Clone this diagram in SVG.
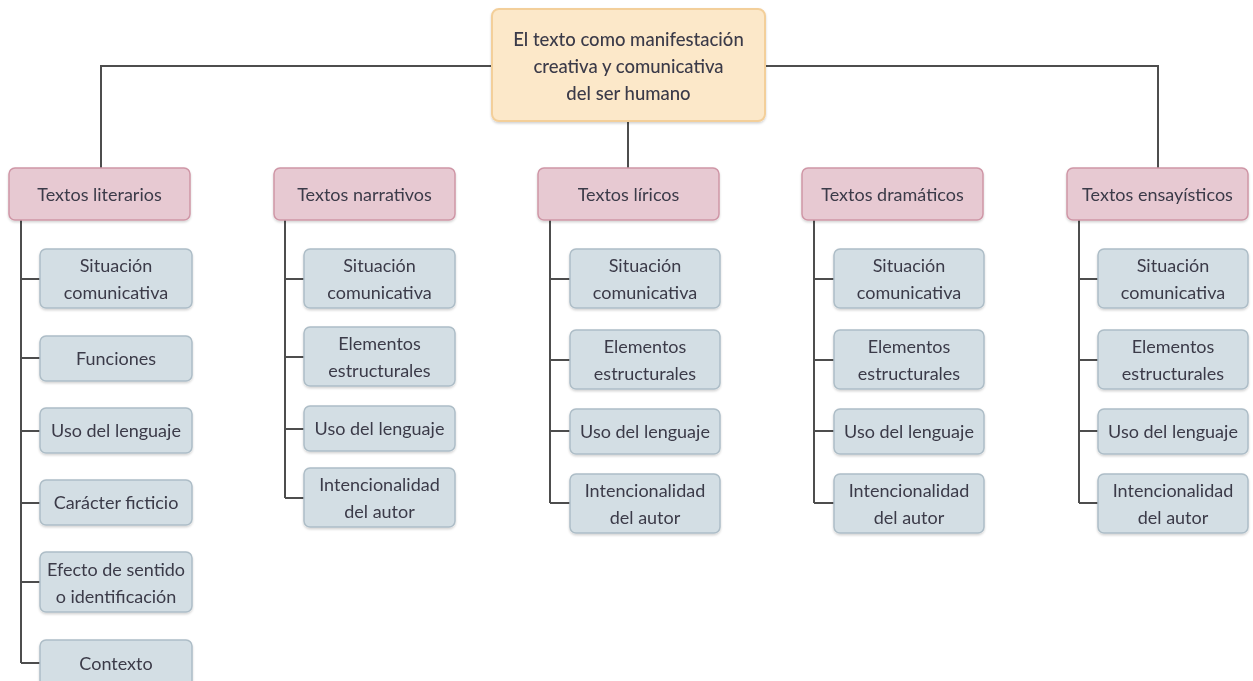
<svg xmlns="http://www.w3.org/2000/svg" width="1253" height="681" viewBox="0 0 1253 681">
<style>
text{font-family:Lato,"Open Sans","Liberation Sans",sans-serif;font-size:18px;fill:#3b3a48;text-anchor:middle}
.root{fill:#fce8c9;stroke:#f3cf9a;stroke-width:2}
.cat{fill:#e7c9d2;stroke:#cf96a6;stroke-width:1.5}
.sub{fill:#d3dee4;stroke:#adbdc7;stroke-width:1.5}
.rt{font-size:18.5px;font-weight:500}
.sh{fill:#000;opacity:0.08}
#connectors path{fill:none;stroke:#4d4d4d;stroke-width:2}
</style>
<defs>
<filter id="ds" x="-5%" y="-10%" width="110%" height="130%"><feDropShadow dx="0" dy="1.5" stdDeviation="1" flood-color="#000" flood-opacity="0.18"/></filter>
</defs>
<rect width="1253" height="681" fill="#fff"/>
<g id="connectors">
<path d="M101 168V66H1158V168M628 121V168"/>
<path d="M21 220V663M21 279H40M21 358H40M21 431H40M21 503H40M21 582H40M21 663H40"/>
<path d="M285 220V498M285 279H304M285 357H304M285 429H304M285 498H304"/>
<path d="M550 220V503M550 279H570M550 360H570M550 431H570M550 503H570"/>
<path d="M814 220V503M814 279H834M814 360H834M814 431H834M814 503H834"/>
<path d="M1079 220V503M1079 279H1098M1079 360H1098M1079 431H1098M1079 503H1098"/>
</g>
<g id="root" filter="url(#ds)"><rect class="root" x="492" y="9" width="273" height="112" rx="7"/>
<text class="rt" x="628.5" y="46">El texto como manifestación</text>
<text class="rt" x="628.5" y="73">creativa y comunicativa</text>
<text class="rt" x="628.5" y="100">del ser humano</text></g>

<g id="cat1" filter="url(#ds)"><rect class="cat" x="9" y="168" width="181" height="52" rx="6"/><text x="99.5" y="201">Textos literarios</text></g>
<g id="cat2" filter="url(#ds)"><rect class="cat" x="274" y="168" width="181" height="52" rx="6"/><text x="364.5" y="201">Textos narrativos</text></g>
<g id="cat3" filter="url(#ds)"><rect class="cat" x="538" y="168" width="181" height="52" rx="6"/><text x="628.5" y="201">Textos líricos</text></g>
<g id="cat4" filter="url(#ds)"><rect class="cat" x="802" y="168" width="181" height="52" rx="6"/><text x="892.5" y="201">Textos dramáticos</text></g>
<g id="cat5" filter="url(#ds)"><rect class="cat" x="1067" y="168" width="181" height="52" rx="6"/><text x="1157.5" y="201">Textos ensayísticos</text></g>

<g id="c1s1" filter="url(#ds)"><rect class="sub" x="40" y="249" width="152" height="59" rx="6"/><text x="116" y="272">Situación</text><text x="116" y="299">comunicativa</text></g>
<g id="c1s2" filter="url(#ds)"><rect class="sub" x="40" y="336" width="152" height="45" rx="6"/><text x="116" y="365">Funciones</text></g>
<g id="c1s3" filter="url(#ds)"><rect class="sub" x="40" y="408" width="152" height="45" rx="6"/><text x="116" y="437">Uso del lenguaje</text></g>
<g id="c1s4" filter="url(#ds)"><rect class="sub" x="40" y="480" width="152" height="45" rx="6"/><text x="116" y="509">Carácter ficticio</text></g>
<g id="c1s5" filter="url(#ds)"><rect class="sub" x="40" y="552" width="152" height="60" rx="6"/><text x="116" y="576">Efecto de sentido</text><text x="116" y="603">o identificación</text></g>
<g id="c1s6" filter="url(#ds)"><rect class="sub" x="40" y="640" width="152" height="48" rx="6"/><text x="116" y="670">Contexto</text></g>

<g id="c2s1" filter="url(#ds)"><rect class="sub" x="304" y="249" width="151" height="59" rx="6"/><text x="379.5" y="272">Situación</text><text x="379.5" y="299">comunicativa</text></g>
<g id="c2s2" filter="url(#ds)"><rect class="sub" x="304" y="327" width="151" height="59" rx="6"/><text x="379.5" y="350">Elementos</text><text x="379.5" y="377">estructurales</text></g>
<g id="c2s3" filter="url(#ds)"><rect class="sub" x="304" y="406" width="151" height="45" rx="6"/><text x="379.5" y="435">Uso del lenguaje</text></g>
<g id="c2s4" filter="url(#ds)"><rect class="sub" x="304" y="468" width="151" height="59" rx="6"/><text x="379.5" y="491">Intencionalidad</text><text x="379.5" y="518">del autor</text></g>

<g id="c3s1" filter="url(#ds)"><rect class="sub" x="570" y="249" width="150" height="59" rx="6"/><text x="645" y="272">Situación</text><text x="645" y="299">comunicativa</text></g>
<g id="c3s2" filter="url(#ds)"><rect class="sub" x="570" y="330" width="150" height="59" rx="6"/><text x="645" y="353">Elementos</text><text x="645" y="380">estructurales</text></g>
<g id="c3s3" filter="url(#ds)"><rect class="sub" x="570" y="409" width="150" height="45" rx="6"/><text x="645" y="438">Uso del lenguaje</text></g>
<g id="c3s4" filter="url(#ds)"><rect class="sub" x="570" y="474" width="150" height="59" rx="6"/><text x="645" y="497">Intencionalidad</text><text x="645" y="524">del autor</text></g>

<g id="c4s1" filter="url(#ds)"><rect class="sub" x="834" y="249" width="150" height="59" rx="6"/><text x="909" y="272">Situación</text><text x="909" y="299">comunicativa</text></g>
<g id="c4s2" filter="url(#ds)"><rect class="sub" x="834" y="330" width="150" height="59" rx="6"/><text x="909" y="353">Elementos</text><text x="909" y="380">estructurales</text></g>
<g id="c4s3" filter="url(#ds)"><rect class="sub" x="834" y="409" width="150" height="45" rx="6"/><text x="909" y="438">Uso del lenguaje</text></g>
<g id="c4s4" filter="url(#ds)"><rect class="sub" x="834" y="474" width="150" height="59" rx="6"/><text x="909" y="497">Intencionalidad</text><text x="909" y="524">del autor</text></g>

<g id="c5s1" filter="url(#ds)"><rect class="sub" x="1098" y="249" width="150" height="59" rx="6"/><text x="1173" y="272">Situación</text><text x="1173" y="299">comunicativa</text></g>
<g id="c5s2" filter="url(#ds)"><rect class="sub" x="1098" y="330" width="150" height="59" rx="6"/><text x="1173" y="353">Elementos</text><text x="1173" y="380">estructurales</text></g>
<g id="c5s3" filter="url(#ds)"><rect class="sub" x="1098" y="409" width="150" height="45" rx="6"/><text x="1173" y="438">Uso del lenguaje</text></g>
<g id="c5s4" filter="url(#ds)"><rect class="sub" x="1098" y="474" width="150" height="59" rx="6"/><text x="1173" y="497">Intencionalidad</text><text x="1173" y="524">del autor</text></g>
</svg>
